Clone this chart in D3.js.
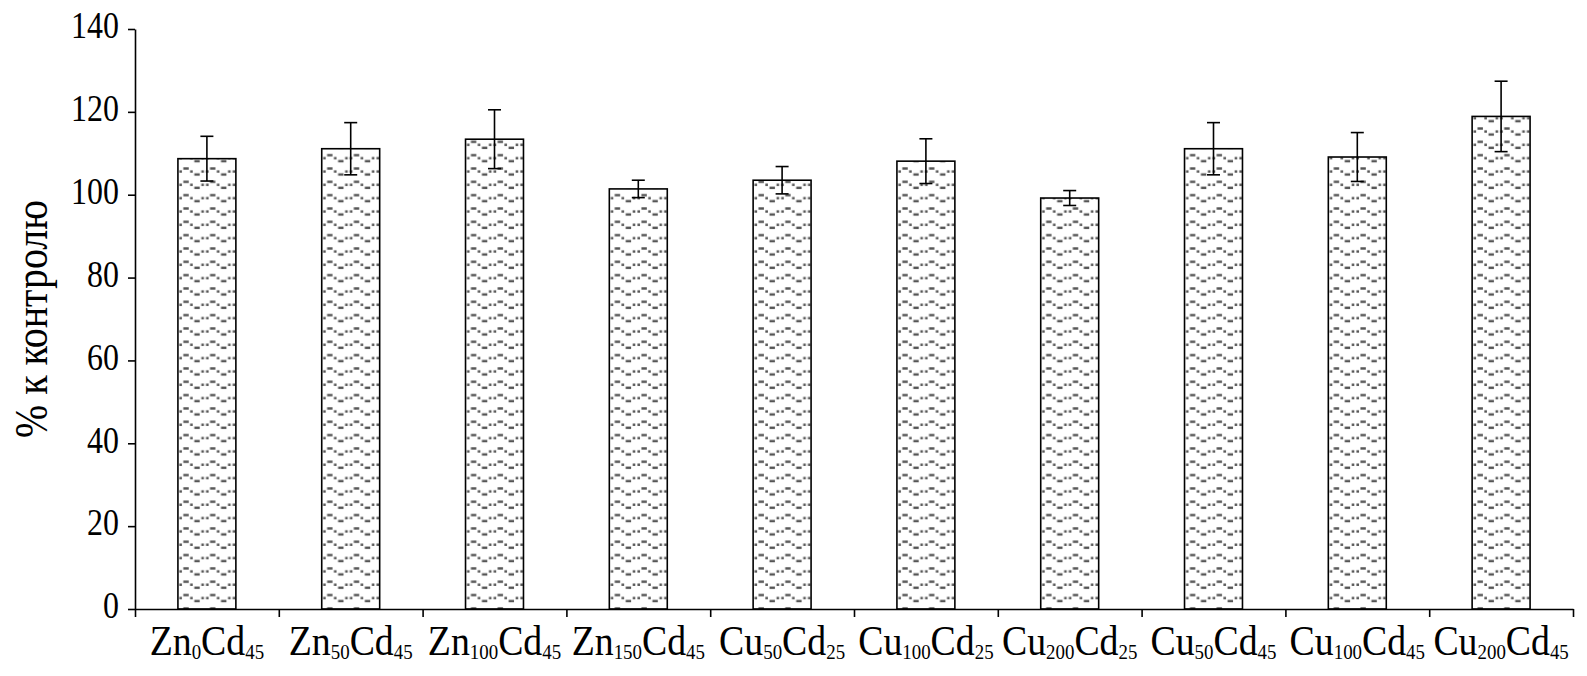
<!DOCTYPE html>
<html><head><meta charset="utf-8">
<script src="https://cdn.jsdelivr.net/npm/d3@7"></script>
<style>html,body{margin:0;padding:0;background:#fff}svg{display:block}</style>
</head><body>
<svg id="c" width="1587" height="676"></svg>
<script>
// ---- data ----
const categories = ["Zn_0Cd_45","Zn_50Cd_45","Zn_100Cd_45","Zn_150Cd_45","Cu_50Cd_25","Cu_100Cd_25","Cu_200Cd_25","Cu_50Cd_45","Cu_100Cd_45","Cu_200Cd_45"];
const values = [108.7, 111.1, 113.4, 101.4, 103.5, 108.1, 99.2, 111.1, 109.1, 118.9];
const errors = [5.4, 6.3, 7.1, 2.1, 3.3, 5.4, 1.8, 6.3, 5.9, 8.5];
const yTicks = [0, 20, 40, 60, 80, 100, 120, 140];
const yTitle = "% к контролю";

// ---- layout ----
const X0 = 135, X1 = 1573, Y0 = 609, Y1 = 29;
const svg = d3.select("#c");
const font = "'Liberation Serif','Times New Roman',serif";

const y = d3.scaleLinear().domain([0, 140]).range([Y0, Y1]);
const x = d3.scaleBand().domain(categories).range([X0, X1]).paddingInner(0.597).paddingOuter(0.2985);
const xb = d3.scaleLinear().domain([0, categories.length]).range([X0, X1]);

// ---- patterns (one per bar, aligned to bar) ----
const defs = svg.append("defs");
const PW = 26.7, PH = 13.33;
categories.forEach((c, i) => {
  const p = defs.append("pattern")
    .attr("id", "pat" + i)
    .attr("patternUnits", "userSpaceOnUse")
    .attr("x", x(c) + 1).attr("y", Y0 - 3)
    .attr("width", PW).attr("height", PH);
  p.append("rect").attr("width", PW).attr("height", PH).attr("fill", "#fff");
  const g = p.append("g").attr("fill", "#555");
  // mid (rising), top, mid (falling), bottom
  g.append("rect").attr("x", 0.4).attr("y", 4.2).attr("width", 2.6).attr("height", 2.4);
  g.append("rect").attr("x", 4.4).attr("y", 1.2).attr("width", 5.4).attr("height", 2.4);
  g.append("rect").attr("x", 11.2).attr("y", 4.2).attr("width", 2.6).attr("height", 2.4);
  g.append("rect").attr("x", 15.4).attr("y", 7.2).attr("width", 5.4).attr("height", 2.4);
  g.append("rect").attr("x", 22.4).attr("y", 4.2).attr("width", 2.6).attr("height", 2.4);
});

// ---- bars ----
svg.append("g").selectAll("rect").data(categories).join("rect")
  .attr("x", d => x(d))
  .attr("y", (d, i) => y(values[i]))
  .attr("width", x.bandwidth())
  .attr("height", (d, i) => y(0) - y(values[i]))
  .attr("fill", (d, i) => `url(#pat${i})`)
  .attr("stroke", "#000").attr("stroke-width", 1.6);

// ---- error bars ----
const eg = svg.append("g").attr("stroke", "#000").attr("stroke-width", 1.6);
categories.forEach((c, i) => {
  const cx = x(c) + x.bandwidth() / 2;
  const hi = y(values[i] + errors[i]), lo = y(values[i] - errors[i]);
  eg.append("line").attr("x1", cx).attr("x2", cx).attr("y1", hi).attr("y2", lo);
  eg.append("line").attr("x1", cx - 6.5).attr("x2", cx + 6.5).attr("y1", hi).attr("y2", hi);
  eg.append("line").attr("x1", cx - 6.5).attr("x2", cx + 6.5).attr("y1", lo).attr("y2", lo);
});

// ---- y axis ----
const ya = svg.append("g").attr("transform", `translate(${X0},0)`)
  .call(d3.axisLeft(y).tickValues(yTicks).tickSize(7).tickSizeOuter(0).tickPadding(9));
ya.selectAll("path,line").attr("stroke", "#000").attr("stroke-width", 1.6);
ya.selectAll("text").attr("font-family", font).attr("font-size", 38).attr("fill", "#000")
  .attr("dy", "0.23em")
  .each(function () {
    const l = this.getComputedTextLength();
    d3.select(this).attr("textLength", l * 0.84).attr("lengthAdjust", "spacingAndGlyphs");
  });

// ---- x axis (boundary ticks) ----
const xa = svg.append("g").attr("transform", `translate(0,${Y0})`)
  .call(d3.axisBottom(xb).tickValues(d3.range(categories.length + 1)).tickSize(8).tickSizeOuter(0).tickFormat(""));
xa.selectAll("path,line").attr("stroke", "#000").attr("stroke-width", 1.6);

// ---- x labels ----
const xl = svg.append("g").attr("transform", `translate(0,${Y0})`)
  .call(d3.axisBottom(x).tickSize(0));
xl.select(".domain").remove();
xl.selectAll("text").each(function (d) {
  const t = d3.select(this);
  t.text(null).attr("y", 46).attr("dy", 0)
    .attr("font-family", font).attr("font-size", 42).attr("fill", "#000")
    .attr("transform", "scale(0.9,1)");
  const m = d.match(/^([A-Za-z]+)_(\d+)([A-Za-z]+)_(\d+)$/);
  t.append("tspan").text(m[1]);
  t.append("tspan").attr("font-size", 21).attr("dy", 4.5).text(m[2]);
  t.append("tspan").attr("dy", -4.5).text(m[3]);
  t.append("tspan").attr("font-size", 21).attr("dy", 4.5).text(m[4]);
});

// ---- y title ----
svg.append("text")
  .attr("transform", "translate(47,319) rotate(-90)")
  .attr("text-anchor", "middle")
  .attr("font-family", font).attr("font-size", 46).attr("fill", "#000")
  .attr("textLength", 238).attr("lengthAdjust", "spacingAndGlyphs")
  .text(yTitle);
</script>
</body></html>
